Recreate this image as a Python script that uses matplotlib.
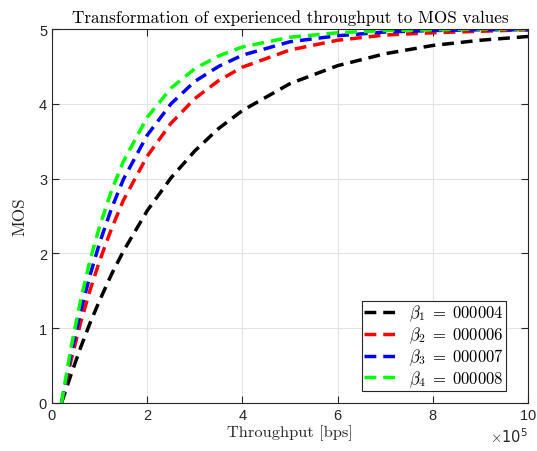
import matplotlib
matplotlib.use("Agg")
import matplotlib.pyplot as plt
from matplotlib.ticker import ScalarFormatter

plt.rcParams['mathtext.fontset'] = 'cm'
plt.rcParams['axes.unicode_minus'] = False

throughput = [2e4, 4e4, 6e4, 8e4, 1e5, 1.25e5, 1.5e5, 2e5, 2.5e5, 3e5, 3.5e5,
              4e5, 5e5, 6e5, 7e5, 8e5, 9e5, 1e6]
mos_b1 = [0, 0.38, 0.74, 1.07, 1.37, 1.72, 2.03, 2.57, 3.01, 3.37, 3.67,
          3.91, 4.27, 4.51, 4.67, 4.78, 4.85, 4.90]
mos_b2 = [0, 0.57, 1.07, 1.51, 1.90, 2.33, 2.71, 3.30, 3.74, 4.07, 4.31,
          4.49, 4.72, 4.85, 4.92, 4.95, 4.97, 4.99]
mos_b3 = [0, 0.65, 1.22, 1.71, 2.14, 2.60, 2.99, 3.58, 4.00, 4.30, 4.50,
          4.65, 4.83, 4.91, 4.96, 4.98, 4.99, 4.99]
mos_b4 = [0, 0.74, 1.37, 1.91, 2.36, 2.84, 3.23, 3.82, 4.21, 4.47, 4.64,
          4.76, 4.89, 4.95, 4.98, 4.99, 5.00, 5.00]
labels = [r'$\beta_1\;=\;000004$', r'$\beta_2\;=\;000006$',
          r'$\beta_3\;=\;000007$', r'$\beta_4\;=\;000008$']
colors = ['#000000', '#ff0000', '#0000ff', '#00ff00']

fig = plt.figure(figsize=(5.37, 4.52), dpi=100)
ax = fig.add_axes([0.0968, 0.1062, 0.8865, 0.8274])

for ys, lab, c in zip([mos_b1, mos_b2, mos_b3, mos_b4], labels, colors):
    ax.plot(throughput, ys, color=c, lw=2.5, dashes=(3.4, 2.0), label=lab)

ax.set_xlim(0, 1e6)
ax.set_ylim(0, 5)
ax.set_xticks([0, 2e5, 4e5, 6e5, 8e5, 1e6])
ax.set_yticks([0, 1, 2, 3, 4, 5])
fmt = ScalarFormatter(useMathText=True)
fmt.set_powerlimits((5, 5))
ax.xaxis.set_major_formatter(fmt)

ax.grid(True, color='#e3e3e3', lw=0.8)
ax.set_axisbelow(True)
for s in ax.spines.values():
    s.set_color('#262626')
    s.set_linewidth(0.8)
ax.tick_params(direction='in', top=True, right=True, length=5, width=0.8,
               colors='#262626', labelsize=10.5)
for lbl in ax.get_xticklabels() + ax.get_yticklabels():
    lbl.set_fontfamily('Liberation Sans')
ax.xaxis.get_offset_text().set_fontsize(10.5)
ax.xaxis.get_offset_text().set_color('#262626')

ax.set_title('Transformation of experienced throughput to MOS values',
             fontfamily='cmr10', fontsize=12.3, pad=5)
ax.set_xlabel('Throughput [bps]', fontfamily='cmr10', fontsize=11.8,
              color='#262626', labelpad=2)
ax.set_ylabel('MOS', fontfamily='cmr10', fontsize=12.3, color='#262626', labelpad=8)

leg = ax.legend(loc='lower right', bbox_to_anchor=(0.9538, 0.0321),
                fontsize=12, frameon=True, fancybox=False,
                edgecolor='#262626', framealpha=1, borderpad=0.12,
                labelspacing=0.08, handlelength=2.2, handletextpad=0.5,
                borderaxespad=0)
leg.get_frame().set_linewidth(0.8)

fig.savefig('out.png', dpi=100)
